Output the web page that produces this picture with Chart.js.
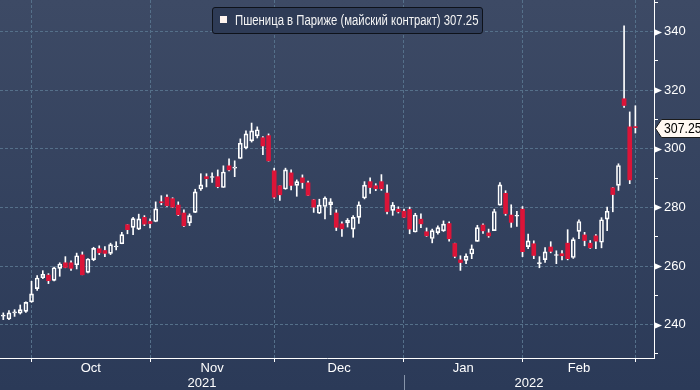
<!DOCTYPE html>
<html>
<head>
<meta charset="utf-8">
<script src="https://cdn.jsdelivr.net/npm/chart.js@4.4.0/dist/chart.umd.min.js"></script>
<style>
  html, body { margin: 0; padding: 0; }
  body {
    width: 700px; height: 390px; overflow: hidden; position: relative;
    background: linear-gradient(#3d4a65, #2b3a58);
    font-family: 'Liberation Sans Narrow', 'Liberation Sans', sans-serif;
  }
  #wrap { position: absolute; left: 0; top: 0; width: 700px; height: 390px; }
  #legend {
    position: absolute; left: 212px; top: 7px; width: 271px; height: 27px;
    box-sizing: border-box; background: #2e3b56; border: 1px solid #0e121a; border-radius: 3px;
    color: #f4f4f4; font-size: 14px; line-height: 25px; white-space: nowrap;
  }
  #legend i { position: absolute; left: 7px; top: 8px; width: 7px; height: 7px; background: #fff4ef; }
  #legtext { position: absolute; left: 22px; top: 0; transform: scaleX(0.81); transform-origin: left center; }
</style>
</head>
<body>
<div id="wrap"><canvas id="chart" width="700" height="390"></canvas></div>
<div id="legend"><i></i><span id="legtext"></span></div>
<script>
// daily OHLC, 24 Sep 2021 .. 1 Mar 2022, one entry per session
const opens = [242.9, 241.9, 244.0, 243.9, 244.5, 247.7, 252.3, 256.0, 256.9, 255.1,
  259.2, 261.1, 261.1, 260.4, 263.8, 257.8, 262.2, 265.9, 265.3, 264.3,
  266.5, 267.6, 274.1, 273.2, 272.6, 276.6, 275.2, 275.2, 281.9, 283.5,
  283.0, 280.8, 278.1, 274.7, 278.3, 286.3, 290.5, 290.2, 290.5, 286.8,
  294.2, 293.4, 296.7, 300.3, 302.7, 304.4, 303.8, 304.5, 292.5, 287.4,
  286.3, 291.8, 287.5, 290.1, 288.4, 282.6, 278.0, 280.3, 280.9, 278.1,
  274.4, 274.7, 272.6, 276.6, 283.2, 288.8, 287.4, 288.8, 284.9, 279.0,
  279.4, 278.7, 279.3, 271.6, 276.0, 271.7, 269.4, 271.4, 272.0, 274.5,
  267.7, 262.1, 261.9, 264.1, 268.4, 274.0, 271.3, 272.1, 280.8, 284.8,
  277.4, 277.0, 279.4, 266.6, 267.6, 260.8, 262.2, 266.5, 263.6, 264.2,
  267.8, 262.9, 271.8, 270.6, 267.8, 270.3, 268.1, 276.0, 286.7, 287.5,
  317.1, 307.5, 307.5];
const highs = [244.0, 244.8, 245.1, 246.7, 247.8, 254.8, 256.7, 258.4, 257.4, 259.6,
  261.1, 263.2, 261.8, 264.4, 264.8, 262.5, 266.4, 266.9, 266.6, 267.8,
  268.3, 271.5, 274.1, 276.6, 277.7, 277.2, 276.1, 281.9, 284.0, 284.3,
  283.3, 281.9, 279.2, 277.8, 286.2, 291.5, 291.5, 291.8, 292.8, 294.2,
  296.6, 295.9, 303.4, 306.1, 308.8, 307.5, 304.2, 305.1, 293.4, 287.4,
  293.4, 292.8, 289.4, 291.1, 289.0, 282.7, 282.8, 283.6, 283.0, 279.2,
  275.1, 276.2, 277.2, 281.9, 288.8, 290.1, 288.1, 291.2, 287.7, 281.7,
  280.2, 279.4, 280.1, 278.0, 277.8, 273.0, 272.6, 273.7, 275.4, 275.1,
  267.8, 263.5, 264.2, 267.2, 273.9, 274.4, 272.6, 279.4, 288.5, 285.7,
  280.9, 278.7, 280.3, 270.9, 268.6, 263.2, 266.3, 268.3, 265.2, 265.3,
  272.4, 269.6, 275.8, 271.5, 268.7, 270.7, 276.5, 280.1, 286.8, 294.9,
  342.0, 312.6, 314.7];
const lows = [241.7, 241.7, 242.8, 243.6, 244.2, 247.6, 251.7, 255.7, 254.0, 254.9,
  256.5, 259.4, 258.5, 259.0, 257.0, 257.6, 261.8, 263.9, 263.2, 263.9,
  265.5, 267.6, 271.0, 270.7, 272.4, 273.8, 273.0, 275.1, 280.9, 280.3,
  280.0, 277.2, 273.4, 273.8, 278.2, 285.8, 287.0, 288.5, 286.7, 286.8,
  292.5, 290.5, 296.6, 300.0, 302.3, 303.7, 298.0, 295.8, 283.1, 282.4,
  286.2, 286.0, 283.8, 286.5, 284.0, 278.3, 277.9, 276.1, 277.5, 272.1,
  270.1, 273.3, 269.8, 274.5, 282.9, 284.8, 285.7, 285.8, 277.8, 277.3,
  278.1, 276.5, 271.0, 271.6, 273.1, 270.1, 267.9, 270.9, 271.8, 268.5,
  262.8, 258.5, 260.8, 262.5, 268.4, 271.1, 269.8, 272.1, 280.8, 277.3,
  273.2, 273.5, 263.2, 265.9, 262.5, 259.4, 261.2, 264.5, 260.8, 262.1,
  262.1, 262.6, 269.3, 266.9, 266.0, 265.9, 266.2, 272.1, 278.5, 285.8,
  314.1, 288.1, 305.4];
const closes = [243.1, 244.0, 244.3, 245.1, 247.6, 250.5, 255.9, 257.2, 255.0, 259.4,
  260.7, 259.5, 259.2, 263.5, 257.0, 262.4, 266.0, 264.5, 264.3, 267.3,
  266.8, 270.7, 272.4, 276.2, 276.1, 274.3, 274.5, 279.5, 281.6, 280.6,
  280.1, 277.5, 273.7, 277.2, 285.3, 287.7, 289.8, 290.4, 287.1, 292.1,
  292.8, 293.8, 301.9, 305.1, 306.1, 306.5, 301.0, 295.9, 283.5, 284.3,
  292.8, 287.5, 288.8, 288.5, 284.1, 280.1, 280.8, 283.2, 281.9, 273.2,
  272.7, 275.6, 276.6, 280.9, 287.6, 286.8, 286.4, 286.4, 278.6, 280.8,
  278.5, 276.6, 272.6, 277.4, 274.4, 270.3, 272.1, 273.1, 274.3, 269.3,
  263.3, 261.2, 263.4, 265.9, 273.1, 272.0, 270.3, 278.6, 287.7, 277.9,
  274.9, 277.2, 264.9, 268.6, 263.6, 261.0, 264.8, 265.0, 263.8, 263.5,
  262.5, 269.0, 275.2, 268.7, 266.2, 268.5, 275.8, 278.7, 284.4, 294.3,
  314.8, 289.4, 307.25];

const monthNames = ['Oct', 'Nov', 'Dec', 'Jan', 'Feb'];
const monthStarts = [5, 26, 48, 71, 92, 112]; // first session of Oct..Mar
const yearNames = ['2021', '2022'];
const yearStart = 71;
const seriesName = 'Пшеница в Париже (майский контракт)';

const xMin = -0.585, xMax = 115.3;
const yMin = 228.6, yMax = 350.8;
const yTicks = [];
for (let v = 230; v <= 350; v += 10) yTicks.push(v);

const red = '#dc1438';
const gridColor = '#55708a';
const family = "'Liberation Sans', Arial, sans-serif";

const last = closes[closes.length - 1];
document.getElementById('legtext').textContent = seriesName + ' ' + last.toFixed(2);

const isUp = i => closes[i] >= opens[i];
const monthMids = monthNames.map((m, k) => (monthStarts[k] + monthStarts[k + 1]) / 2);
const yearMids = [(xMin + yearStart) / 2, (yearStart + xMax) / 2];

const bodies = closes.map((c, i) => ({x: i, y: [opens[i], c]}));
const upperWicks = closes.map((c, i) => ({x: i, y: [Math.max(opens[i], c), highs[i]]}));
const lowerWicks = closes.map((c, i) => ({x: i, y: [lows[i], Math.min(opens[i], c)]}));

const axisMarks = {
  id: 'axisMarks',
  afterDraw(chart) {
    const {ctx} = chart;
    const y = chart.scales.y, x = chart.scales.x, x2 = chart.scales.x2;
    const ax = y.left;
    ctx.save();
    // flags on labelled ticks
    ctx.fillStyle = '#ffffff';
    y.ticks.forEach(t => {
      if (t.value % 20) return;
      const py = Math.round(y.getPixelForValue(t.value));
      ctx.beginPath();
      ctx.moveTo(ax, py - 3);
      ctx.lineTo(ax + 8, py + 0.5);
      ctx.lineTo(ax, py + 4);
      ctx.closePath();
      ctx.fill();
    });
    // last price tag
    const py = Math.round(y.getPixelForValue(last)) + 0.5;
    ctx.beginPath();
    ctx.moveTo(ax + 1.5, py);
    ctx.lineTo(ax + 7.5, py - 9);
    ctx.lineTo(chart.width + 2, py - 9);
    ctx.lineTo(chart.width + 2, py + 9);
    ctx.lineTo(ax + 7.5, py + 9);
    ctx.closePath();
    ctx.fillStyle = '#fff8f2';
    ctx.fill();
    ctx.strokeStyle = '#1a1a1a';
    ctx.lineWidth = 1;
    ctx.stroke();
    ctx.fillStyle = '#000';
    ctx.font = '15px ' + family;
    ctx.textBaseline = 'middle';
    ctx.translate(ax + 10, py + 0.5);
    ctx.scale(0.82, 1);
    ctx.fillText(last.toFixed(2), 0, 0);
    ctx.setTransform(1, 0, 0, 1, 0, 0);
    // year separator
    const sx = Math.round(x.getPixelForValue(yearStart)) + 0.5;
    ctx.strokeStyle = '#8795aa';
    ctx.beginPath();
    ctx.moveTo(sx, x2.top);
    ctx.lineTo(sx, chart.height);
    ctx.stroke();
    ctx.restore();
  }
};

new Chart(document.getElementById('chart'), {
  type: 'bar',
  data: {
    datasets: [
      {
        label: 'body',
        data: bodies,
        grouped: false,
        barThickness: 4,
        minBarLength: 1,
        borderSkipped: false,
        backgroundColor: c => isUp(c.dataIndex) ? 'rgba(0,0,0,0)' : red,
        borderColor: c => isUp(c.dataIndex) ? '#ffffff' : red,
        borderWidth: c => isUp(c.dataIndex) ? 1 : 0
      },
      {
        label: 'upper',
        data: upperWicks,
        grouped: false,
        barThickness: 1,
        borderWidth: 0,
        backgroundColor: '#ffffff'
      },
      {
        label: 'lower',
        data: lowerWicks,
        grouped: false,
        barThickness: 1,
        borderWidth: 0,
        backgroundColor: '#ffffff'
      }
    ]
  },
  options: {
    responsive: false,
    animation: false,
    devicePixelRatio: 1,
    layout: {padding: 0},
    plugins: {legend: {display: false}, tooltip: {enabled: false}},
    scales: {
      x: {
        type: 'linear', position: 'bottom', min: xMin, max: xMax, offset: false, weight: 0,
        grid: {
          offset: false, tickLength: 4,
          color: c => c.tick && monthStarts.includes(c.tick.value) ? gridColor : 'rgba(0,0,0,0)',
          tickColor: c => c.tick && monthStarts.includes(c.tick.value) ? '#ffffff' : 'rgba(0,0,0,0)'
        },
        border: {color: '#ffffff', width: 1, dash: [3, 2]},
        ticks: {
          autoSkip: false, maxRotation: 0, color: '#ffffff', padding: 0,
          font: {family: family, size: 13, lineHeight: 1},
          callback: v => {
            const k = monthMids.indexOf(v);
            return k >= 0 ? monthNames[k] : '';
          }
        },
        afterBuildTicks: s => {
          s.ticks = monthStarts.concat(monthMids).sort((a, b) => a - b).map(v => ({value: v}));
        },
        afterFit: s => { s.height = 17; s.paddingLeft = 0; s.paddingRight = 0; }
      },
      x2: {
        type: 'linear', position: 'bottom', min: xMin, max: xMax, offset: false, weight: 1,
        grid: {display: false, drawTicks: false},
        border: {display: false},
        ticks: {
          autoSkip: false, maxRotation: 0, color: '#ffffff', padding: 2,
          font: {family: family, size: 13, lineHeight: 1},
          callback: v => {
            const k = yearMids.indexOf(v);
            return k >= 0 ? yearNames[k] : '';
          }
        },
        afterBuildTicks: s => { s.ticks = yearMids.map(v => ({value: v})); },
        afterFit: s => { s.height = 15; s.paddingLeft = 0; s.paddingRight = 0; }
      },
      y: {
        type: 'linear', position: 'right', min: yMin, max: yMax,
        grid: {
          tickLength: 4, tickColor: '#ffffff',
          color: c => c.tick && c.tick.value % 20 === 0 ? gridColor : 'rgba(0,0,0,0)'
        },
        border: {color: '#ffffff', width: 1, dash: [3, 2]},
        ticks: {
          color: '#ffffff', padding: 6,
          font: {family: family, size: 13},
          callback: v => v % 20 === 0 ? String(v) : ''
        },
        afterBuildTicks: s => { s.ticks = yTicks.map(v => ({value: v})); },
        afterFit: s => { s.width = 46; s.paddingTop = 0; s.paddingBottom = 0; }
      }
    }
  },
  plugins: [axisMarks]
});
</script>
</body>
</html>
